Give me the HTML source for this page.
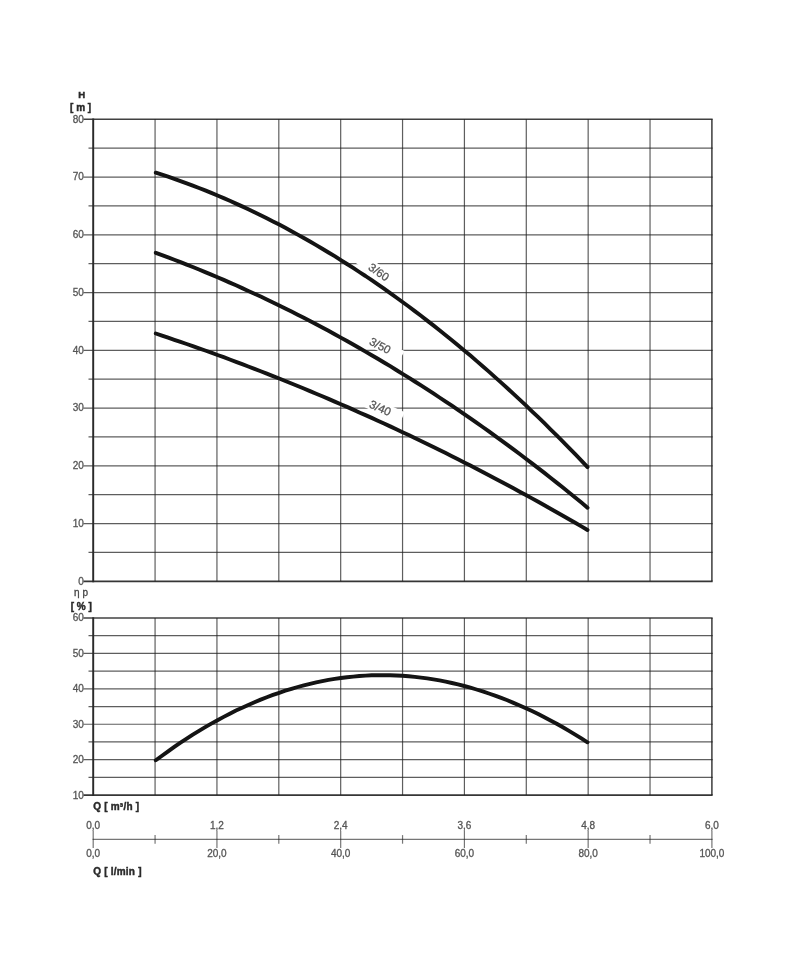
<!DOCTYPE html>
<html><head><meta charset="utf-8"><title>Pump curve</title>
<style>
html,body{margin:0;padding:0;background:#fff;}
body{width:800px;height:968px;overflow:hidden;font-family:"Liberation Sans",sans-serif;}
svg{display:block;}
.gb{filter:blur(0.6px);}
.tb{filter:blur(0.4px);}
.cb{filter:blur(0.5px);}
text{font-family:"Liberation Sans",sans-serif;font-size:10px;fill:#555;stroke:#555;stroke-width:0.3px;}
.b{font-weight:bold;fill:#2a2a2a;stroke:#2a2a2a;stroke-width:0.45px;}
</style></head><body>
<svg width="800" height="968" viewBox="0 0 800 968">
<rect width="800" height="968" fill="#fff"/>

<g class="gb">
<g stroke="#202020" stroke-opacity="0.72" stroke-width="1.2" fill="none"><line x1="83.4" y1="581.30" x2="712.65" y2="581.30" stroke-width="1.65" stroke-opacity="0.9"/>
<line x1="88.5" y1="552.42" x2="712.65" y2="552.42" />
<line x1="83.4" y1="523.55" x2="712.65" y2="523.55" />
<line x1="88.5" y1="494.67" x2="712.65" y2="494.67" />
<line x1="83.4" y1="465.80" x2="712.65" y2="465.80" />
<line x1="88.5" y1="436.92" x2="712.65" y2="436.92" />
<line x1="83.4" y1="408.05" x2="712.65" y2="408.05" />
<line x1="88.5" y1="379.17" x2="712.65" y2="379.17" />
<line x1="83.4" y1="350.30" x2="712.65" y2="350.30" />
<line x1="88.5" y1="321.42" x2="712.65" y2="321.42" />
<line x1="83.4" y1="292.55" x2="712.65" y2="292.55" />
<line x1="88.5" y1="263.67" x2="712.65" y2="263.67" />
<line x1="83.4" y1="234.80" x2="712.65" y2="234.80" />
<line x1="88.5" y1="205.92" x2="712.65" y2="205.92" />
<line x1="83.4" y1="177.05" x2="712.65" y2="177.05" />
<line x1="88.5" y1="148.17" x2="712.65" y2="148.17" />
<line x1="83.4" y1="119.30" x2="712.65" y2="119.30" stroke-width="1.4" stroke-opacity="0.85"/>
<line x1="155.07" y1="119.30" x2="155.07" y2="581.30" />
<line x1="216.94" y1="119.30" x2="216.94" y2="581.30" />
<line x1="278.81" y1="119.30" x2="278.81" y2="581.30" />
<line x1="340.68" y1="119.30" x2="340.68" y2="581.30" />
<line x1="402.55" y1="119.30" x2="402.55" y2="581.30" />
<line x1="464.42" y1="119.30" x2="464.42" y2="581.30" />
<line x1="526.29" y1="119.30" x2="526.29" y2="581.30" />
<line x1="588.16" y1="119.30" x2="588.16" y2="581.30" />
<line x1="650.03" y1="119.30" x2="650.03" y2="581.30" />
<line x1="711.90" y1="119.30" x2="711.90" y2="581.30" stroke-width="1.55" stroke-opacity="0.85"/></g>
<line x1="93.20" y1="118.60" x2="93.20" y2="582.20" stroke="#2a2a2a" stroke-width="1.95"/>
<g stroke="#202020" stroke-opacity="0.72" stroke-width="1.2" fill="none"><line x1="83.4" y1="795.10" x2="712.65" y2="795.10" stroke-width="1.65" stroke-opacity="0.9"/>
<line x1="88.5" y1="777.39" x2="712.65" y2="777.39" />
<line x1="83.4" y1="759.68" x2="712.65" y2="759.68" />
<line x1="88.5" y1="741.97" x2="712.65" y2="741.97" />
<line x1="83.4" y1="724.26" x2="712.65" y2="724.26" />
<line x1="88.5" y1="706.55" x2="712.65" y2="706.55" />
<line x1="83.4" y1="688.84" x2="712.65" y2="688.84" />
<line x1="88.5" y1="671.13" x2="712.65" y2="671.13" />
<line x1="83.4" y1="653.42" x2="712.65" y2="653.42" />
<line x1="88.5" y1="635.71" x2="712.65" y2="635.71" />
<line x1="83.4" y1="618.00" x2="712.65" y2="618.00" stroke-width="1.4" stroke-opacity="0.85"/>
<line x1="155.07" y1="618.00" x2="155.07" y2="795.10" />
<line x1="216.94" y1="618.00" x2="216.94" y2="795.10" />
<line x1="278.81" y1="618.00" x2="278.81" y2="795.10" />
<line x1="340.68" y1="618.00" x2="340.68" y2="795.10" />
<line x1="402.55" y1="618.00" x2="402.55" y2="795.10" />
<line x1="464.42" y1="618.00" x2="464.42" y2="795.10" />
<line x1="526.29" y1="618.00" x2="526.29" y2="795.10" />
<line x1="588.16" y1="618.00" x2="588.16" y2="795.10" />
<line x1="650.03" y1="618.00" x2="650.03" y2="795.10" />
<line x1="711.90" y1="618.00" x2="711.90" y2="795.10" stroke-width="1.55" stroke-opacity="0.85"/></g>
<line x1="93.20" y1="617.30" x2="93.20" y2="796.00" stroke="#2a2a2a" stroke-width="1.95"/>
<g stroke="#222" stroke-opacity="0.62" stroke-width="1.2" fill="none"><line x1="92.60" y1="839.4" x2="712.50" y2="839.4"/>
<line x1="93.20" y1="830.6999999999999" x2="93.20" y2="848.1"/>
<line x1="155.07" y1="835.1" x2="155.07" y2="843.6999999999999"/>
<line x1="216.94" y1="830.6999999999999" x2="216.94" y2="848.1"/>
<line x1="278.81" y1="835.1" x2="278.81" y2="843.6999999999999"/>
<line x1="340.68" y1="830.6999999999999" x2="340.68" y2="848.1"/>
<line x1="402.55" y1="835.1" x2="402.55" y2="843.6999999999999"/>
<line x1="464.42" y1="830.6999999999999" x2="464.42" y2="848.1"/>
<line x1="526.29" y1="835.1" x2="526.29" y2="843.6999999999999"/>
<line x1="588.16" y1="830.6999999999999" x2="588.16" y2="848.1"/>
<line x1="650.03" y1="835.1" x2="650.03" y2="843.6999999999999"/>
<line x1="711.90" y1="830.6999999999999" x2="711.90" y2="848.1"/></g>
</g>
<g class="tb">
<text x="83.8" y="584.7" text-anchor="end">0</text>
<text x="83.8" y="526.9" text-anchor="end">10</text>
<text x="83.8" y="469.2" text-anchor="end">20</text>
<text x="83.8" y="411.4" text-anchor="end">30</text>
<text x="83.8" y="353.7" text-anchor="end">40</text>
<text x="83.8" y="295.9" text-anchor="end">50</text>
<text x="83.8" y="238.2" text-anchor="end">60</text>
<text x="83.8" y="180.4" text-anchor="end">70</text>
<text x="83.8" y="122.7" text-anchor="end">80</text>
<text x="83.8" y="798.5" text-anchor="end">10</text>
<text x="83.8" y="763.1" text-anchor="end">20</text>
<text x="83.8" y="727.7" text-anchor="end">30</text>
<text x="83.8" y="692.2" text-anchor="end">40</text>
<text x="83.8" y="656.8" text-anchor="end">50</text>
<text x="83.8" y="621.4" text-anchor="end">60</text>
<text class="b" x="81.6" y="98" text-anchor="middle" style="font-size:9.6px">H</text>
<text class="b" x="80.6" y="111.1" text-anchor="middle">[ m ]</text>
<text x="81" y="595.8" text-anchor="middle" style="fill:#444;stroke:#444">&#951; p</text>
<text class="b" x="81.25" y="609.6" text-anchor="middle">[ % ]</text>
<text class="b" x="93.2" y="810.4" style="letter-spacing:0.22px">Q [ m&#179;/h ]</text>
<text class="b" x="93.2" y="875.4" style="letter-spacing:0.22px">Q [ l/min ]</text>
<text x="93.2" y="829.3" text-anchor="middle">0,0</text>
<text x="93.2" y="856.6" text-anchor="middle">0,0</text>
<text x="216.9" y="829.3" text-anchor="middle">1,2</text>
<text x="216.9" y="856.6" text-anchor="middle">20,0</text>
<text x="340.7" y="829.3" text-anchor="middle">2,4</text>
<text x="340.7" y="856.6" text-anchor="middle">40,0</text>
<text x="464.4" y="829.3" text-anchor="middle">3,6</text>
<text x="464.4" y="856.6" text-anchor="middle">60,0</text>
<text x="588.2" y="829.3" text-anchor="middle">4,8</text>
<text x="588.2" y="856.6" text-anchor="middle">80,0</text>
<text x="711.9" y="829.3" text-anchor="middle">6,0</text>
<text x="711.9" y="856.6" text-anchor="middle">100,0</text>
</g>
<g class="tb">
<g transform="translate(367.5,269) rotate(35)"><rect x="-13" y="-10.3" width="48.2" height="12.1" fill="#fff"/><text x="0" y="0" style="font-size:11.4px;">3/60</text></g>
<g transform="translate(368.5,344) rotate(27.5)"><rect x="-13" y="-10.3" width="48.2" height="12.1" fill="#fff"/><text x="0" y="0" style="font-size:11.4px;">3/50</text></g>
<g transform="translate(368.5,407) rotate(24.7)"><rect x="-13" y="-10.3" width="48.2" height="12.1" fill="#fff"/><text x="0" y="0" style="font-size:11.4px;">3/40</text></g>
</g>
<g class="cb">
<path d="M155.8,172.7 L162.0,174.7 L168.1,176.7 L174.3,178.9 L180.5,181.1 L186.7,183.3 L192.8,185.6 L199.0,188.0 L205.2,190.4 L211.3,192.9 L217.5,195.5 L223.7,198.1 L229.8,200.8 L236.0,203.6 L242.2,206.4 L248.3,209.2 L254.5,212.2 L260.7,215.2 L266.8,218.3 L273.0,221.4 L279.2,224.6 L285.3,227.8 L291.5,231.2 L297.7,234.6 L303.8,238.0 L310.0,241.5 L316.2,245.1 L322.3,248.7 L328.5,252.5 L334.7,256.2 L340.8,260.1 L347.0,264.0 L353.2,267.9 L359.3,272.0 L365.5,276.0 L371.7,280.2 L377.8,284.4 L384.0,288.7 L390.2,293.1 L396.3,297.5 L402.5,302.0 L408.7,306.5 L414.8,311.1 L421.0,315.8 L427.2,320.6 L433.4,325.4 L439.5,330.2 L445.7,335.2 L451.9,340.2 L458.0,345.3 L464.2,350.4 L470.4,355.6 L476.5,360.9 L482.7,366.2 L488.9,371.6 L495.0,377.1 L501.2,382.6 L507.4,388.2 L513.5,393.9 L519.7,399.6 L525.9,405.4 L532.0,411.3 L538.2,417.2 L544.4,423.2 L550.5,429.3 L556.7,435.4 L562.9,441.6 L569.0,447.9 L575.2,454.2 L581.4,460.6 L587.5,467.1" stroke="#141414" stroke-width="3.9" fill="none" stroke-linecap="round" stroke-linejoin="round"/>
<path d="M155.8,252.8 L162.0,255.1 L168.1,257.4 L174.3,259.8 L180.5,262.1 L186.7,264.6 L192.8,267.0 L199.0,269.5 L205.2,272.1 L211.3,274.6 L217.5,277.2 L223.7,279.9 L229.8,282.6 L236.0,285.3 L242.2,288.1 L248.3,290.9 L254.5,293.7 L260.7,296.6 L266.8,299.5 L273.0,302.5 L279.2,305.5 L285.3,308.5 L291.5,311.6 L297.7,314.7 L303.8,317.8 L310.0,321.0 L316.2,324.3 L322.3,327.5 L328.5,330.8 L334.7,334.2 L340.8,337.6 L347.0,341.0 L353.2,344.5 L359.3,348.0 L365.5,351.6 L371.7,355.2 L377.8,358.8 L384.0,362.5 L390.2,366.2 L396.3,370.0 L402.5,373.8 L408.7,377.6 L414.8,381.5 L421.0,385.4 L427.2,389.4 L433.4,393.4 L439.5,397.5 L445.7,401.6 L451.9,405.7 L458.0,409.9 L464.2,414.1 L470.4,418.4 L476.5,422.7 L482.7,427.0 L488.9,431.4 L495.0,435.9 L501.2,440.3 L507.4,444.9 L513.5,449.4 L519.7,454.0 L525.9,458.7 L532.0,463.4 L538.2,468.1 L544.4,472.9 L550.5,477.8 L556.7,482.6 L562.9,487.6 L569.0,492.5 L575.2,497.5 L581.4,502.6 L587.5,507.7" stroke="#141414" stroke-width="3.9" fill="none" stroke-linecap="round" stroke-linejoin="round"/>
<path d="M155.8,333.5 L162.0,335.6 L168.1,337.7 L174.3,339.8 L180.5,341.9 L186.7,344.0 L192.8,346.1 L199.0,348.3 L205.2,350.5 L211.3,352.7 L217.5,355.0 L223.7,357.2 L229.8,359.5 L236.0,361.8 L242.2,364.1 L248.3,366.5 L254.5,368.8 L260.7,371.2 L266.8,373.6 L273.0,376.1 L279.2,378.5 L285.3,381.0 L291.5,383.5 L297.7,386.0 L303.8,388.5 L310.0,391.1 L316.2,393.7 L322.3,396.3 L328.5,398.9 L334.7,401.6 L340.8,404.2 L347.0,406.9 L353.2,409.6 L359.3,412.4 L365.5,415.1 L371.7,417.9 L377.8,420.7 L384.0,423.6 L390.2,426.4 L396.3,429.3 L402.5,432.2 L408.7,435.1 L414.8,438.1 L421.0,441.0 L427.2,444.0 L433.4,447.0 L439.5,450.1 L445.7,453.1 L451.9,456.2 L458.0,459.3 L464.2,462.4 L470.4,465.6 L476.5,468.8 L482.7,472.0 L488.9,475.2 L495.0,478.4 L501.2,481.7 L507.4,485.0 L513.5,488.3 L519.7,491.7 L525.9,495.0 L532.0,498.4 L538.2,501.8 L544.4,505.3 L550.5,508.7 L556.7,512.2 L562.9,515.7 L569.0,519.3 L575.2,522.8 L581.4,526.4 L587.5,530.0" stroke="#141414" stroke-width="3.9" fill="none" stroke-linecap="round" stroke-linejoin="round"/>
<path d="M155.8,760.3 L162.0,755.7 L168.1,751.3 L174.3,746.9 L180.5,742.7 L186.7,738.7 L192.8,734.7 L199.0,730.9 L205.2,727.2 L211.3,723.6 L217.5,720.2 L223.7,716.9 L229.8,713.7 L236.0,710.6 L242.2,707.7 L248.3,704.9 L254.5,702.2 L260.7,699.6 L266.8,697.2 L273.0,694.9 L279.2,692.8 L285.3,690.7 L291.5,688.8 L297.7,687.0 L303.8,685.3 L310.0,683.8 L316.2,682.4 L322.3,681.1 L328.5,679.9 L334.7,678.9 L340.8,678.0 L347.0,677.2 L353.2,676.6 L359.3,676.0 L365.5,675.6 L371.7,675.3 L377.8,675.2 L384.0,675.2 L390.2,675.3 L396.3,675.5 L402.5,675.8 L408.7,676.3 L414.8,676.9 L421.0,677.6 L427.2,678.4 L433.4,679.4 L439.5,680.4 L445.7,681.6 L451.9,683.0 L458.0,684.4 L464.2,686.0 L470.4,687.7 L476.5,689.5 L482.7,691.4 L488.9,693.5 L495.0,695.6 L501.2,697.9 L507.4,700.3 L513.5,702.9 L519.7,705.5 L525.9,708.3 L532.0,711.1 L538.2,714.1 L544.4,717.3 L550.5,720.5 L556.7,723.8 L562.9,727.3 L569.0,730.9 L575.2,734.6 L581.4,738.4 L587.5,742.3" stroke="#141414" stroke-width="3.9" fill="none" stroke-linecap="round" stroke-linejoin="round"/>
</g>
</svg></body></html>
